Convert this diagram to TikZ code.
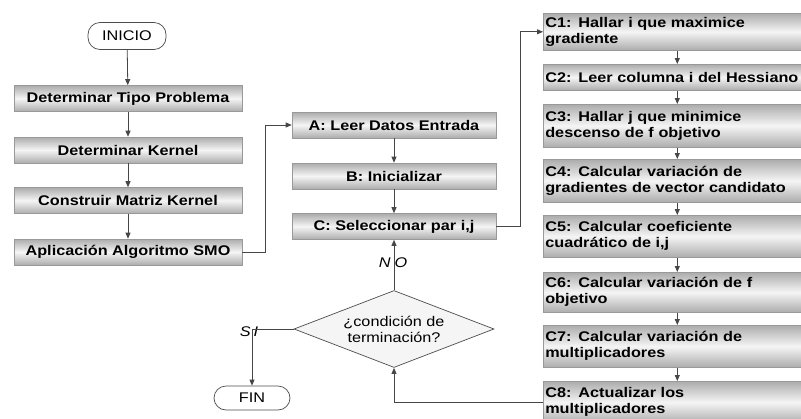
\documentclass[tikz,border=0pt]{standalone}
\usepackage{fontspec}
\setmainfont{Liberation Sans}[FakeStretch=1.16]
\usetikzlibrary{arrows.meta,shapes.geometric}
\newcommand\fsz{\fontsize{14}{16}\selectfont}
\tikzset{
  lbox/.style={draw=gray!80, line width=0.6pt, top color=gray!65, bottom color=gray!65, middle color=gray!8,
    minimum width=228pt, minimum height=26pt, inner sep=0pt, font=\fsz\bfseries, align=center},
  rbox/.style={lbox, anchor=north west, minimum width=268pt, text width=264pt, inner xsep=2pt, align=left},
  term/.style={draw=gray!60!black, line width=0.7pt, rounded corners=12pt, fill=white, minimum width=78pt,
    minimum height=27pt, inner sep=0pt, font=\fsz},
  arr/.style={draw=gray!55!black, line width=0.8pt, -{Triangle[length=6pt,width=5pt]}},
  lbl/.style={font=\fsz\itshape, inner sep=0pt},
}
\begin{document}
\begin{tikzpicture}[x=1pt,y=-1pt]
\useasboundingbox (0,0) rectangle (801,418);
\clip (0,0) rectangle (801,418);
% left column
\node[term] (ini) at (127,36) {INICIO};
\node[lbox] (l1) at (128,98.5) {Determinar Tipo Problema};
\node[lbox] (l2) at (128,150) {Determinar Kernel};
\node[lbox] (l3) at (128,200.5) {Construir Matriz Kernel};
\node[lbox] (l4) at (128,252) {Aplicación Algoritmo SMO};
% middle column
\node[lbox, minimum width=204pt] (a) at (394,125) {A: Leer Datos Entrada};
\node[lbox, minimum width=204pt] (b) at (394,176) {B: Inicializar};
\node[lbox, minimum width=204pt] (c) at (394,226.5) {C: Seleccionar par i,j};
\node[draw=gray!60!black, line width=0.7pt, fill=gray!8, diamond, minimum width=200pt, minimum height=77pt, inner sep=0pt] (dia) at (394,329) {};
\node[font=\fsz, align=center, inner sep=0pt] (diat) at (dia.center) {¿condición de\\terminación?};
\node[term, minimum width=76pt, minimum height=24pt] (fin) at (252,398) {FIN};
\node[lbl] (no) at (393,263) {N\hspace{4pt}O};
\node[lbl] (si) at (249,332) {S\hspace{3pt}I};
% right column
\node[rbox, minimum height=37pt] (c1) at (543,13) {C1: Hallar i que maximice\\gradiente};
\node[rbox, minimum height=26pt] (c2) at (543,64) {C2: Leer columna i del Hessiano};
\node[rbox, minimum height=43pt] (c3) at (543,104) {C3: Hallar j que minimice\\descenso de f objetivo};
\node[rbox, minimum height=43pt] (c4) at (543,159) {C4: Calcular variación de\\gradientes de vector candidato};
\node[rbox, minimum height=42pt] (c5) at (543,215) {C5: Calcular coeficiente\\cuadrático de i,j};
\node[rbox, minimum height=40pt] (c6) at (543,272) {C6: Calcular variación de f\\objetivo};
\node[rbox, minimum height=42pt] (c7) at (543,325) {C7: Calcular variación de\\multiplicadores};
\node[rbox, minimum height=42pt] (c8) at (543,381) {C8: Actualizar los\\multiplicadores};
% connectors
\draw[arr] (ini) -- (l1);
\draw[arr] (l1) -- (l2);
\draw[arr] (l2) -- (l3);
\draw[arr] (l3) -- (l4);
\draw[arr] (l4.east) -- ++(23,0) |- (a.west);
\draw[arr] (a) -- (b);
\draw[arr] (b) -- (c);
\draw[arr] (c.east) -- ++(24,0) |- (c1.west);
\draw[arr] (c1) -- (c2);
\draw[arr] (c2) -- (c3);
\draw[arr] (c3) -- (c4);
\draw[arr] (c4) -- (c5);
\draw[arr] (c5) -- (c6);
\draw[arr] (c6) -- (c7);
\draw[arr] (c7) -- (c8);
\draw[arr] (c8.west) -| (dia.south);
\draw[arr] (dia.north) -- (c.south);
\draw[arr] (dia.west) -| (fin.north);
\end{tikzpicture}
\end{document}
